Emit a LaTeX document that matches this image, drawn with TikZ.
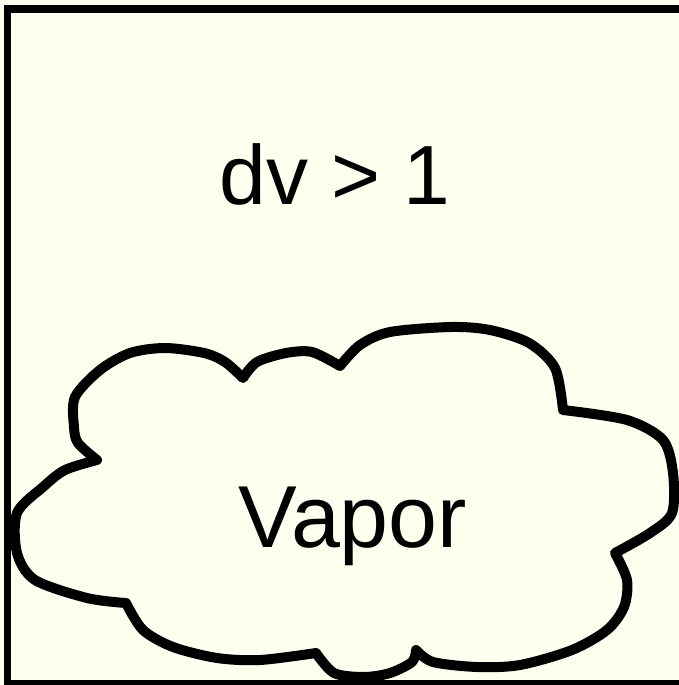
\documentclass[tikz,border=0pt]{standalone}
\usepackage{fontspec}
\usepackage{tikz}
\usetikzlibrary{positioning}
\setmainfont{Liberation Sans}
\definecolor{ivorypaper}{RGB}{255,255,240}

\begin{document}
\begin{tikzpicture}[x=1pt,y=-1pt]
    \useasboundingbox (0,0) rectangle (679,685);
    \fill[ivorypaper] (0,0) rectangle (679,685);
    \draw[black,line width=7.5pt] (7.5,9) rectangle (690,684);
    % cloud outline, lobe by lobe
    \draw[black,fill=ivorypaper,line width=10pt,line join=round]
      plot[smooth] coordinates {(97,460) (78,443) (74,427) (75,397) (100,370) (130,353) (165,348) (204,353) (225,362) (243,378)}
      -- plot[smooth] coordinates {(243,378) (257,362) (286,353) (312,352) (340,366)}
      -- plot[smooth] coordinates {(340,366) (360,345) (390,332) (451,327) (490,330) (529,343) (555,368) (563,410)}
      -- plot[smooth] coordinates {(563,410) (627,420) (663,440) (673,473) (672,513) (650,533) (615,553)}
      -- plot[smooth] coordinates {(615,553) (627,580) (624,607) (607,630) (572,650) (520,665) (477,667) (433,662) (416,650)}
      -- plot[smooth] coordinates {(416,650) (412,662) (390,673) (364,677) (334,673) (316,653)}
      -- plot[smooth] coordinates {(316,653) (260,660) (217,658) (173,647) (143,630) (126,603)}
      -- plot[smooth] coordinates {(126,603) (87,598) (35,580) (17,553) (17,513) (43,487) (65,470) (97,460)}
      -- cycle;
    \node[anchor=base,inner sep=0pt,font=\fontsize{84}{100}\selectfont]
      (ratio) at (335,204) {dv > 1};
    \node[anchor=base,inner sep=0pt,font=\fontsize{88}{100}\selectfont]
      (vapor) at (353,547) {Vapor};
\end{tikzpicture}
\end{document}
